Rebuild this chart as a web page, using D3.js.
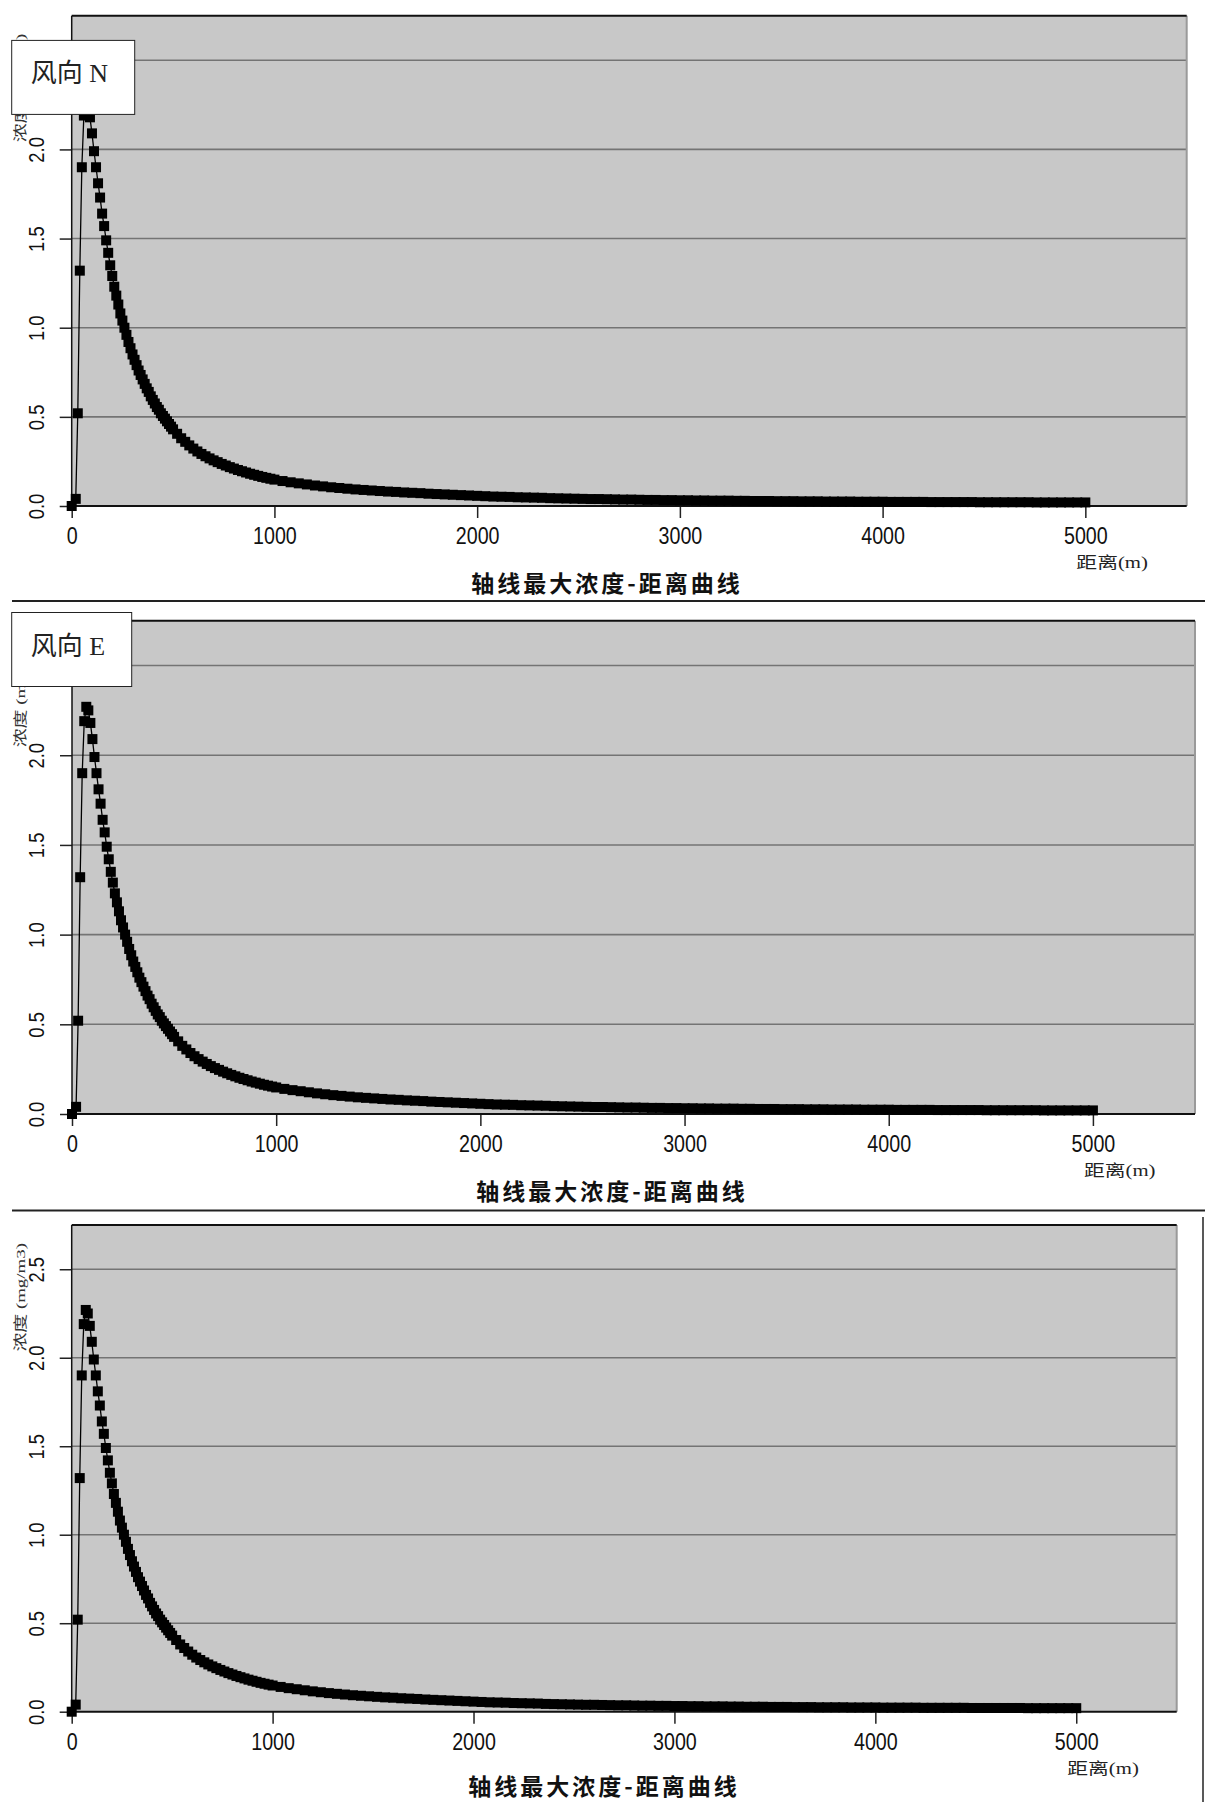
<!DOCTYPE html>
<html lang="zh">
<head>
<meta charset="UTF-8">
<title>轴线最大浓度-距离曲线</title>
<script src="https://d3js.org/d3.v7.min.js"></script>
<style>
body { margin: 0; background: #fff; }
svg { display: block; }
</style>
</head>
<body>
<div id="chart"></div>
<script>
// --- distances (m) and axis max concentration (mg/m3) ---
// near field, 10 m steps around the peak
const distNear = [0, 20, 30, 40, 50, 60, 70, 80, 90, 100,
  110, 120, 130, 140, 150, 160, 170, 180, 190, 200,
  210, 220, 230, 240, 250, 260, 270, 280, 290, 300,
  310, 320, 330, 340, 350, 360, 370, 380, 390, 400,
  410, 420, 430, 440, 450, 460, 470, 480, 490, 500];
const concNear = [0, 0.04, 0.52, 1.32, 1.90, 2.19, 2.27, 2.25, 2.18, 2.09,
  1.99, 1.90, 1.81, 1.73, 1.64, 1.57, 1.49, 1.42, 1.35, 1.29,
  1.23, 1.18, 1.13, 1.08, 1.04, 1.00, 0.96, 0.92, 0.885, 0.85,
  0.82, 0.79, 0.76, 0.735, 0.71, 0.685, 0.66, 0.64, 0.615, 0.595,
  0.575, 0.555, 0.54, 0.52, 0.505, 0.49, 0.475, 0.46, 0.445, 0.43];

// middle range, 20 m steps
const distMid = [520, 540, 560, 580, 600, 620, 640, 660, 680, 700,
  720, 740, 760, 780, 800, 820, 840, 860, 880, 900,
  920, 940, 960, 980, 1000];
const concMid = [0.405, 0.38, 0.36, 0.34, 0.322, 0.306, 0.292, 0.279, 0.267, 0.256,
  0.246, 0.236, 0.227, 0.218, 0.21, 0.202, 0.195, 0.188, 0.181, 0.175,
  0.169, 0.163, 0.158, 0.153, 0.148];

// far field, 40 m steps
const distFar = [1040, 1080, 1120, 1160, 1200, 1240, 1280, 1320, 1360, 1400,
  1440, 1480, 1520, 1560, 1600, 1640, 1680, 1720, 1760, 1800,
  1840, 1880, 1920, 1960, 2000, 2040, 2080, 2120, 2160, 2200,
  2240, 2280, 2320, 2360, 2400, 2440, 2480, 2520, 2560, 2600,
  2640, 2680, 2720, 2760, 2800, 2840, 2880, 2920, 2960, 3000,
  3040, 3080, 3120, 3160, 3200, 3240, 3280, 3320, 3360, 3400,
  3440, 3480, 3520, 3560, 3600, 3640, 3680, 3720, 3760, 3800,
  3840, 3880, 3920, 3960, 4000, 4040, 4080, 4120, 4160, 4200,
  4240, 4280, 4320, 4360, 4400, 4440, 4480, 4520, 4560, 4600,
  4640, 4680, 4720, 4760, 4800, 4840, 4880, 4920, 4960, 5000];
const concFar = [0.140, 0.133, 0.127, 0.121, 0.115, 0.110, 0.105, 0.101, 0.097, 0.093,
  0.090, 0.087, 0.084, 0.081, 0.079, 0.076, 0.074, 0.072, 0.069, 0.067,
  0.065, 0.063, 0.061, 0.059, 0.057, 0.055, 0.053, 0.052, 0.051, 0.049,
  0.048, 0.047, 0.046, 0.044, 0.043, 0.042, 0.041, 0.040, 0.039, 0.039,
  0.038, 0.037, 0.036, 0.036, 0.035, 0.034, 0.034, 0.033, 0.033, 0.032,
  0.032, 0.031, 0.031, 0.030, 0.030, 0.030, 0.029, 0.029, 0.028, 0.028,
  0.028, 0.027, 0.027, 0.027, 0.026, 0.026, 0.026, 0.025, 0.025, 0.025,
  0.025, 0.024, 0.024, 0.024, 0.024, 0.023, 0.023, 0.023, 0.023, 0.023,
  0.022, 0.022, 0.022, 0.022, 0.022, 0.022, 0.021, 0.021, 0.021, 0.021,
  0.021, 0.021, 0.021, 0.020, 0.020, 0.020, 0.020, 0.020, 0.020, 0.020];

const xTicks = [0, 1000, 2000, 3000, 4000, 5000];
const yTicks = [0, 0.5, 1.0, 1.5, 2.0, 2.5];
const chartTitle = "轴线最大浓度-距离曲线";
const xTitle = "距离(m)";
const yTitle = "浓度 (mg/m3)";

// all three panels show the same curve
const allConc = concNear.concat(concMid, concFar);
const points = distNear.concat(distMid, distFar).map((d, i) => ({ d: d, c: allConc[i] }));

// --- panel layout (pixels) ---
const panels = [
  { name: "风向 N", x0: 71.7, x1: 1186.7, y0: 15.7, y1: 506, titleX: 607, titleY: 592,
    box: { x: 11.7, y: 40.4, w: 123, h: 74 } },
  { name: "风向 E", x0: 72, x1: 1195, y0: 620.7, y1: 1114, titleX: 612, titleY: 1200,
    box: { x: 11.7, y: 612.5, w: 120, h: 74 } },
  { name: null, x0: 71.7, x1: 1176.7, y0: 1225, y1: 1711.7, titleX: 604, titleY: 1795 }
];

const svg = d3.select("#chart").append("svg")
  .attr("width", 1205)
  .attr("height", 1802)
  .style("background", "#fff");

// separators between the pasted charts
svg.append("line").attr("x1", 12).attr("x2", 1205).attr("y1", 601).attr("y2", 601)
  .attr("stroke", "#222").attr("stroke-width", 2);
svg.append("line").attr("x1", 12).attr("x2", 1205).attr("y1", 1210.5).attr("y2", 1210.5)
  .attr("stroke", "#222").attr("stroke-width", 2);
svg.append("line").attr("x1", 1203).attr("x2", 1203).attr("y1", 1217).attr("y2", 1802)
  .attr("stroke", "#222").attr("stroke-width", 1.5);

panels.forEach(p => {
  const x = d3.scaleLinear().domain([0, 5500]).range([p.x0, p.x1]);
  const y = d3.scaleLinear().domain([0, 2.75]).range([p.y1, p.y0]);
  const g = svg.append("g");

  // plot area
  g.append("rect")
    .attr("x", p.x0).attr("y", p.y0)
    .attr("width", p.x1 - p.x0).attr("height", p.y1 - p.y0)
    .attr("fill", "#c8c8c8");

  // gridlines
  g.selectAll(".grid").data(yTicks.filter(v => v > 0)).enter().append("line")
    .attr("x1", p.x0).attr("x2", p.x1)
    .attr("y1", d => y(d)).attr("y2", d => y(d))
    .attr("stroke", "#747474").attr("stroke-width", 1.6);

  // y axis
  const yAxis = g.append("g")
    .attr("transform", `translate(${p.x0},0)`)
    .call(d3.axisLeft(y).tickValues(yTicks).tickSize(12).tickFormat(d3.format(".1f")));
  yAxis.select(".domain").remove();
  yAxis.selectAll(".tick line").attr("stroke", "#222").attr("stroke-width", 1.5);
  yAxis.selectAll(".tick text")
    .attr("x", null).attr("dy", null)
    .attr("text-anchor", "middle")
    .attr("transform", "translate(-27.7,0) rotate(-90) scale(0.82,1)")
    .attr("font-family", "'Liberation Sans', Arial, sans-serif")
    .attr("font-size", 22.5)
    .attr("fill", "#111");

  // x axis
  const xAxis = g.append("g")
    .attr("transform", `translate(0,${p.y1})`)
    .call(d3.axisBottom(x).tickValues(xTicks).tickSize(12).tickPadding(9).tickFormat(d3.format("d")));
  xAxis.select(".domain").remove();
  xAxis.selectAll(".tick line").attr("stroke", "#222").attr("stroke-width", 1.5);
  xAxis.selectAll(".tick text")
    .attr("transform", "scale(0.82,1)")
    .attr("font-family", "'Liberation Sans', Arial, sans-serif")
    .attr("font-size", 24)
    .attr("fill", "#111");

  // plot borders
  g.append("line").attr("x1", p.x1).attr("x2", p.x1).attr("y1", p.y0).attr("y2", p.y1)
    .attr("stroke", "#9a9a9a").attr("stroke-width", 2);
  g.append("line").attr("x1", p.x0).attr("x2", p.x1).attr("y1", p.y0).attr("y2", p.y0)
    .attr("stroke", "#111").attr("stroke-width", 2);
  g.append("line").attr("x1", p.x0).attr("x2", p.x0).attr("y1", p.y0).attr("y2", p.y1)
    .attr("stroke", "#111").attr("stroke-width", 1.5);
  g.append("line").attr("x1", p.x0).attr("x2", p.x1).attr("y1", p.y1).attr("y2", p.y1)
    .attr("stroke", "#111").attr("stroke-width", 2);

  // curve and markers
  const line = d3.line().x(d => x(d.d)).y(d => y(d.c));
  g.append("path").datum(points)
    .attr("d", line)
    .attr("fill", "none")
    .attr("stroke", "#000")
    .attr("stroke-width", 1.3);
  g.selectAll(".dot").data(points).enter().append("rect")
    .attr("x", d => x(d.d) - 5)
    .attr("y", d => y(d.c) - 5)
    .attr("width", 10).attr("height", 10)
    .attr("fill", "#000");

  // axis titles
  g.append("text")
    .attr("transform", `translate(25,${p.y0 + 126.6}) rotate(-90) scale(1.4,1)`)
    .attr("font-family", "'Liberation Serif', 'Noto Sans CJK SC', serif")
    .attr("font-size", 13.5)
    .attr("fill", "#333")
    .text(yTitle);

  g.append("text")
    .attr("transform", `translate(${x(5000) - 9},${p.y1 + 62}) scale(1.3,1)`)
    .attr("font-family", "'Liberation Serif', 'Noto Sans CJK SC', serif")
    .attr("font-size", 16)
    .attr("fill", "#222")
    .text(xTitle);

  g.append("text")
    .attr("x", p.titleX).attr("y", p.titleY)
    .attr("text-anchor", "middle")
    .attr("font-family", "'Noto Sans CJK SC', sans-serif")
    .attr("font-weight", "bold")
    .attr("font-size", 23)
    .attr("letter-spacing", 3)
    .attr("fill", "#111")
    .text(chartTitle);

  // wind direction box
  if (p.name) {
    g.append("rect")
      .attr("x", p.box.x).attr("y", p.box.y)
      .attr("width", p.box.w).attr("height", p.box.h)
      .attr("fill", "#fff").attr("stroke", "#222").attr("stroke-width", 1);
    g.append("text")
      .attr("x", p.box.x + 19).attr("y", p.box.y + 42)
      .attr("font-family", "'Liberation Serif', 'Noto Sans CJK SC', serif")
      .attr("font-size", 26)
      .attr("fill", "#222")
      .text(p.name);
  }
});
</script>
</body>
</html>
